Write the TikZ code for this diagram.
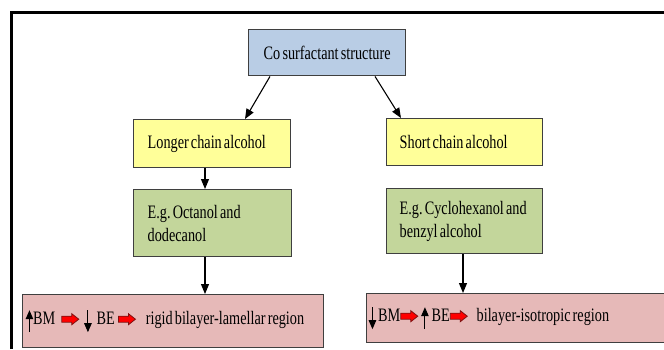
\documentclass[tikz,border=0pt]{standalone}
\usepackage{fontspec}
\setmainfont{Liberation Serif}[FakeStretch=0.75,WordSpace=0.6]
\usetikzlibrary{arrows.meta}
\definecolor{cblue}{HTML}{B9CDE5}
\definecolor{cyellow}{HTML}{FFFF99}
\definecolor{cgreen}{HTML}{C3D69B}
\definecolor{cpink}{HTML}{E6B9B8}
\definecolor{cborder}{HTML}{3F3F3F}
\definecolor{redarrowedge}{HTML}{7F1010}
\newcommand\myuparrow{\tikz[baseline=8pt,x=1pt,y=1pt]\draw[line width=1.1pt,-{Triangle[length=9pt,width=7.5pt]}] (0,0)--(0,22);}
\newcommand\mydownarrow{\tikz[baseline=8pt,x=1pt,y=1pt]\draw[line width=1.1pt,-{Triangle[length=9pt,width=7.5pt]}] (0,22)--(0,0);}
\newcommand\myredarrow{\tikz[baseline=0pt,x=1pt,y=1pt]\filldraw[fill=red,draw=redarrowedge,line width=0.8pt] (0,2)--(10,2)--(10,-0.5)--(17,5)--(10,10.5)--(10,8)--(0,8)--cycle;}
\newcommand\natsp{\spaceskip=0pt\relax\xspaceskip=0pt\relax}
\tikzset{
  box/.style={draw=cborder, line width=1.4pt, anchor=north west, inner ysep=2pt,
    font=\fontsize{19}{23}\selectfont},
  lbox/.style={box, align=left},
  conn/.style={line width=1.1pt, -{Triangle[length=10pt,width=8pt]}},
}
\begin{document}
\begin{tikzpicture}[x=1pt,y=-1pt]
\useasboundingbox (0,0) rectangle (664,349);
\fill[white] (0,0) rectangle (664,349);
\draw[line width=3pt] (11,349) -- (11,12) -- (664,12);

\node[box, fill=cblue, minimum width=157pt, minimum height=46pt, align=center] (top) at (248,29) {Co surfactant structure};

\node[lbox, fill=cyellow, inner xsep=14pt, text width=129pt, minimum height=48pt] (long) at (133,119) {\natsp Longer chain alcohol};
\node[lbox, fill=cyellow, inner xsep=13pt, text width=130pt, minimum height=47pt] (short) at (386,118) {\natsp Short chain alcohol};

\node[lbox, fill=cgreen, inner xsep=14pt, text width=130pt, minimum height=67pt] (oct) at (133,189) {\natsp E.g.~Octanol~and\\dodecanol};
\node[lbox, fill=cgreen, inner xsep=13pt, text width=130pt, minimum height=65pt] (cyc) at (386,188) {\natsp E.g.~Cyclohexanol~and\\benzyl~alcohol};

\node[lbox, fill=cpink, inner xsep=3pt, text width=295pt, minimum height=53pt] (bl) at (22,294)
  {\natsp\raisebox{3pt}{\myuparrow BM\hspace{6pt}\myredarrow\hspace{5pt}\mydownarrow\hspace{5pt}BE\,\myredarrow\hspace{10pt}rigid bilayer-lamellar region}};
\node[lbox, fill=cpink, inner xsep=2pt, text width=306pt, minimum height=49pt] (br) at (366,293)
  {\natsp\raisebox{1pt}{\mydownarrow\hspace{2pt}BM\myredarrow\hspace{3pt}\myuparrow\hspace{3pt}BE\myredarrow\hspace{9pt}bilayer-isotropic region}};

\draw[conn] ([xshift=22pt]top.south west) -- ([xshift=112pt]long.north west);
\draw[conn] ([xshift=127pt]top.south west) -- ([xshift=15pt]short.north west);
\draw[conn] ([xshift=72pt]long.south west) -- ([xshift=72pt]oct.north west);
\draw[conn] ([xshift=72pt]oct.south west) -- ([xshift=183pt]bl.north west);
\draw[conn] ([xshift=77pt]cyc.south west) -- ([xshift=97pt]br.north west);
\end{tikzpicture}
\end{document}
